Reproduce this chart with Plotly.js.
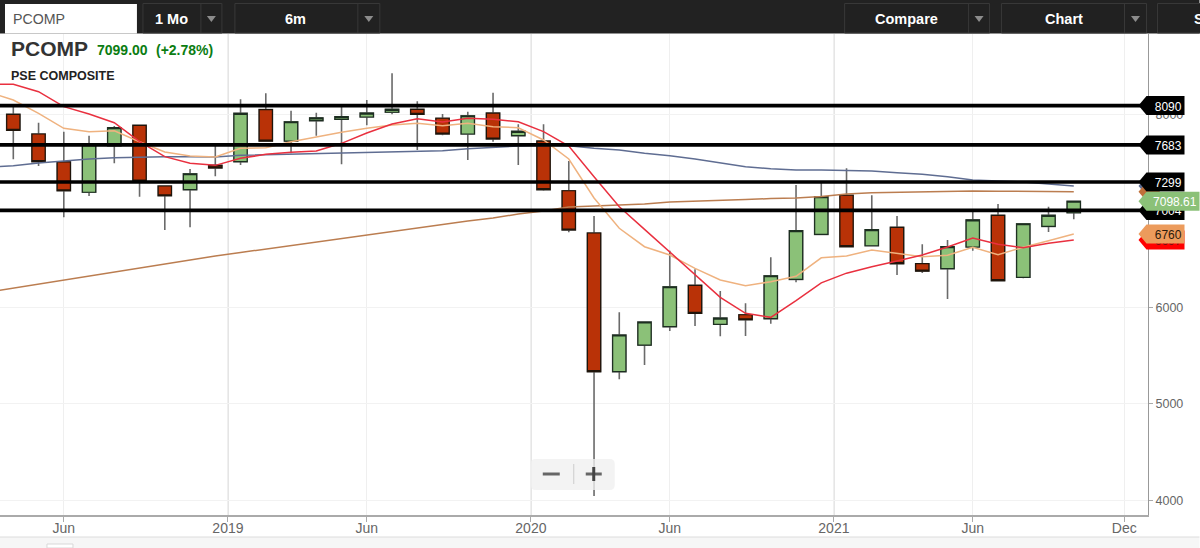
<!DOCTYPE html>
<html>
<head>
<meta charset="utf-8">
<script src="https://cdn.plot.ly/plotly-3.0.1.min.js"></script>
<style>
  html, body { margin: 0; padding: 0; background: #fff; overflow: hidden; }
  #chart { width: 1200px; height: 548px; }
</style>
</head>
<body>
<div id="chart"></div>
<script>
// monthly bars, Apr 2018 to Oct 2021
const months = ['2018-04','2018-05','2018-06','2018-07','2018-08','2018-09','2018-10','2018-11','2018-12',
  '2019-01','2019-02','2019-03','2019-04','2019-05','2019-06','2019-07','2019-08','2019-09','2019-10','2019-11','2019-12',
  '2020-01','2020-02','2020-03','2020-04','2020-05','2020-06','2020-07','2020-08','2020-09','2020-10','2020-11','2020-12',
  '2021-01','2021-02','2021-03','2021-04','2021-05','2021-06','2021-07','2021-08','2021-09','2021-10'];
const opens = [8000,7796,7506,7192,7675,7886,7257,7219,7471,7509,8048,7723,7934,7948,7972,8021,8052,7959,7796,8013,7778,
  7723,7208,6770,5333,5609,5799,6228,5824,5923,5882,6290,6756,7161,6638,6829,6452,6400,6625,6953,6311,6839,6980];
const highs = [8090,7913,7820,7778,7879,7886,7257,7433,7692,8155,8218,8037,8017,8086,8148,8425,8135,8003,8027,8224,7896,
  7896,7516,6946,5948,5848,6587,6394,6170,6041,6518,7267,7302,7440,7161,6946,6653,6697,7008,7070,6866,7042,7099];
const lows = [7534,7464,6933,7153,7492,7146,6801,6829,7357,7475,7723,7596,7778,7482,7886,8000,7630,7782,7526,7716,7475,
  7208,6777,4044,5254,5402,5754,5806,5699,5703,5830,6259,6756,6628,6638,6335,6355,6086,6586,6276,6300,6780,6912];
const closes = [7834,7509,7208,7685,7861,7309,7156,7384,7444,8010,7723,7923,7962,7975,8013,8052,8000,7796,7985,7744,7824,
  7219,6801,5333,5713,5848,6213,5938,5889,5871,6327,6794,7146,6628,6804,6452,6376,6628,6905,6276,6866,6953,7099];

// moving averages, first value is one month before the first bar (off screen)
const maRed = [8314,8311,8234,8079,8003,7913,7716,7561,7492,7471,7544,7585,7606,7620,7699,7806,7899,7954,7920,7959,7948,7923,
  7820,7671,7353,7042,6808,6576,6335,6104,5938,5896,6070,6254,6354,6421,6480,6542,6625,6718,6653,6618,6663,6697];
const maOrange = [8231,8148,8010,7855,7820,7830,7716,7609,7568,7557,7648,7654,7716,7768,7813,7855,7889,7907,7882,7907,7872,7861,
  7734,7537,7133,6819,6628,6542,6404,6283,6224,6265,6322,6513,6532,6594,6560,6524,6539,6622,6545,6622,6690,6760];
const maBlue = [7454,7467,7495,7516,7537,7550,7557,7561,7561,7558,7575,7581,7589,7592,7596,7602,7612,7620,7623,7644,7661,7671,
  7679,7675,7648,7630,7596,7571,7537,7498,7457,7436,7423,7423,7416,7412,7395,7378,7353,7319,7309,7298,7278,7257];
const maBrown = [6158,6200,6241,6283,6324,6366,6407,6449,6490,6532,6568,6604,6640,6677,6713,6749,6791,6827,6863,6894,6925,6967,
  6998,7039,7050,7060,7070,7091,7102,7112,7117,7127,7133,7148,7174,7188,7193,7198,7202,7205,7203,7201,7199,7198];

const levels = [8090,7683,7299,7004];
const xTickVals = [2,8.5,14,20.5,26,32.5,38,44];
const xTickText = ['Jun','2019','Jun','2020','Jun','2021','Jun','Dec'];
const yearLines = [8.5,20.5,32.5];
const yTickVals = [4000,5000,6000,7000,8000];

const W = 1148.5, H = 481, BOTTOM = 515;
const yMin = 3848, yMax = 8832;
const px = x => x / W;
const py = y => (BOTTOM - y) / H;
const unitsPerPx = (yMax - yMin) / H;

const barX = months.map((m, i) => i);
const maX = [-1].concat(barX);

function maTrace(vals, color) {
  return {type: 'scatter', mode: 'lines', x: maX, y: vals, line: {color: color, width: 1.5}, hoverinfo: 'skip'};
}

const traces = [
  // wicks in grey first, then the bodies with a dark outline on top
  {type: 'candlestick', x: barX, open: opens, high: highs, low: lows, close: closes, whiskerwidth: 0,
    increasing: {line: {color: '#6a6a6a', width: 1.6}, fillcolor: '#8bc178'},
    decreasing: {line: {color: '#6a6a6a', width: 1.6}, fillcolor: '#b93207'}},
  {type: 'candlestick', x: barX, open: opens, close: closes, whiskerwidth: 0,
    high: opens.map((o, i) => Math.max(o, closes[i])), low: opens.map((o, i) => Math.min(o, closes[i])),
    increasing: {line: {color: '#1c2e20', width: 1.2}, fillcolor: '#8bc178'},
    decreasing: {line: {color: '#1f140a', width: 1.2}, fillcolor: '#b93207'}},
  maTrace(maBrown, '#bb7d50'),
  maTrace(maBlue, '#5f6d92'),
  maTrace(maOrange, '#efb27f'),
  maTrace(maRed, '#e9303f')
];

const shapes = [];
const annotations = [];

function box(x0, y0, x1, y1, fill, line) {
  shapes.push({type: 'rect', xref: 'paper', yref: 'paper', x0: px(x0), x1: px(x1), y0: py(y0), y1: py(y1),
    fillcolor: fill, line: line ? {color: line, width: 1} : {width: 0}});
}
function rule(x0, y0, x1, y1, color, width) {
  shapes.push({type: 'line', xref: 'paper', yref: 'paper', x0: px(x0), x1: px(x1), y0: py(y0), y1: py(y1),
    line: {color: color, width: width}});
}
function text(str, x, y, size, color, bold, anchor) {
  annotations.push({xref: 'paper', yref: 'paper', x: px(x), y: py(y), text: bold ? '<b>' + str + '</b>' : str,
    showarrow: false, xanchor: anchor || 'center', yanchor: 'middle', borderpad: 0,
    font: {family: 'Liberation Sans, Arial, sans-serif', size: size, color: color}});
}
function tag(value, fill, textColor, label, right) {
  const h = 9.5 * unitsPerPx;
  const xa = px(1139), xb = px(1147), xc = px(right || 1185);
  shapes.push({type: 'path', xref: 'paper', yref: 'y', fillcolor: fill, line: {width: 0},
    path: `M ${xa} ${value} L ${xb} ${value + h} L ${xc} ${value + h} L ${xc} ${value - h} L ${xb} ${value - h} Z`,
    label: {text: label, textposition: 'middle right', padding: 0,
      font: {family: 'Liberation Sans, Arial, sans-serif', size: 12, color: textColor}}});
}

// year gridlines are darker than the month ones
yearLines.forEach(v => shapes.push({type: 'line', layer: 'below', xref: 'x', yref: 'paper', x0: v, x1: v, y0: 0, y1: 1,
  line: {color: '#d9d9d9', width: 1.5}}));

// levels and price tags
tag(maBlue[maBlue.length - 1], '#5f6d92', '#fff', '', 1160);
tag(maBrown[maBrown.length - 1], '#c0703a', '#fff', '', 1160);
levels.forEach(v => {
  shapes.push({type: 'line', xref: 'paper', yref: 'y', x0: 0, x1: px(1143), y0: v, y1: v, line: {color: '#000', width: 3.6}});
  tag(v, '#000', '#fff', String(v));
});
tag(6697, '#ff0000', '#7a1010', '6697');
tag(maOrange[maOrange.length - 1], '#ec9b5c', '#2b1a0c', '6760');
tag(closes[closes.length - 1], '#8bc178', '#fff', '7098.61', 1200);

// zoom control
const zx0 = px(531), zx1 = px(615), zy0 = py(490), zy1 = py(459), rx = px(536) - px(531), ry = py(459) - py(464);
shapes.push({type: 'path', xref: 'paper', yref: 'paper', fillcolor: 'rgba(240,240,240,0.78)', line: {width: 0},
  path: `M ${zx0 + rx} ${zy1} L ${zx1 - rx} ${zy1} Q ${zx1} ${zy1} ${zx1} ${zy1 - ry} L ${zx1} ${zy0 + ry} Q ${zx1} ${zy0} ${zx1 - rx} ${zy0} ` +
        `L ${zx0 + rx} ${zy0} Q ${zx0} ${zy0} ${zx0} ${zy0 + ry} L ${zx0} ${zy1 - ry} Q ${zx0} ${zy1} ${zx0 + rx} ${zy1} Z`});
rule(543, 474, 560, 474, '#666', 3);
rule(574, 464, 574, 484, '#ccc', 1);
rule(586, 474, 602, 474, '#666', 3);
rule(594, 467, 594, 481, '#444', 3);

// strip under the axis
box(0, 537, 1200, 548, '#f6f6f6');
rule(0, 537, 1200, 537, '#dcdcdc', 1);
box(47, 544, 73, 548, '#fff', '#d8d8d8');

// toolbar
box(0, 0, 1200, 33.5, '#222222');
box(5, 4, 137, 33.5, '#ffffff');
[[143, 222, 201], [235, 380, 358], [845, 990, 969], [1002, 1147, 1125], [1158, 1215, null]].forEach(b => {
  box(b[0], 3.5, b[1], 33, '#212121', '#383838');
  if (b[2] !== null) {
    rule(b[2], 3.5, b[2], 33, '#383838', 1);
    const cx = (b[2] + b[1]) / 2;
    shapes.push({type: 'path', xref: 'paper', yref: 'paper', fillcolor: '#8c8c8c', line: {width: 0},
      path: `M ${px(cx - 4.5)} ${py(16)} L ${px(cx + 4.5)} ${py(16)} L ${px(cx)} ${py(22)} Z`});
  }
});
text('PCOMP', 12.5, 19.5, 14.2, '#555', false, 'left');
text('1 Mo', 172, 19.5, 14.5, '#fff', true);
text('6m', 296, 19.5, 14.5, '#fff', true);
text('Compare', 906.5, 19.5, 14.5, '#fff', true);
text('Chart', 1064, 19.5, 14.5, '#fff', true);
text('S', 1194, 19.5, 14.5, '#fff', true, 'left');

// heading
text('PCOMP', 10, 48, 21, '#333', true, 'left');
text('7099.00', 96, 50.5, 14, '#0b7d12', true, 'left');
text('(+2.78%)', 155, 50.5, 14, '#0b7d12', true, 'left');
text('PSE COMPOSITE', 10.5, 76.5, 12.5, '#222', true, 'left');

const layout = {
  width: 1200, height: 548,
  margin: {l: 0, r: 51.5, t: 34, b: 33, pad: 0},
  paper_bgcolor: '#fff', plot_bgcolor: '#fff',
  showlegend: false, hovermode: false, dragmode: false,
  boxgap: 0.25,
  xaxis: {
    type: 'linear', range: [-0.527, 44.94], rangeslider: {visible: false},
    tickmode: 'array', tickvals: xTickVals, ticktext: xTickText,
    showgrid: true, gridcolor: '#efefef', gridwidth: 1, zeroline: false,
    showline: true, linecolor: '#aaa', linewidth: 2,
    ticks: 'outside', ticklen: 5, tickcolor: '#aaa', tickwidth: 1, ticklabelstandoff: -6,
    tickfont: {family: 'Liberation Sans, Arial, sans-serif', size: 14, color: '#666'}
  },
  yaxis: {
    side: 'right', range: [yMin, yMax], tickmode: 'array', tickvals: yTickVals,
    showgrid: true, gridcolor: '#f2f2f2', gridwidth: 1, zeroline: false,
    showline: true, linecolor: '#999', linewidth: 1,
    ticks: 'outside', ticklen: 4, tickcolor: '#aaa', tickwidth: 1,
    tickfont: {family: 'Liberation Sans, Arial, sans-serif', size: 12.5, color: '#666'}
  },
  shapes: shapes,
  annotations: annotations
};

Plotly.newPlot('chart', traces, layout, {displayModeBar: false, staticPlot: true});
</script>
</body>
</html>
